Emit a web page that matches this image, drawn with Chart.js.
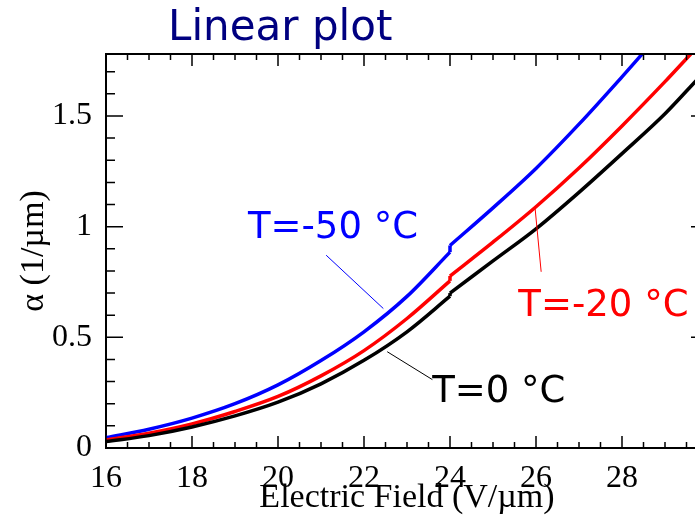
<!DOCTYPE html>
<html>
<head>
<meta charset="utf-8">
<script src="https://cdn.jsdelivr.net/npm/chart.js@4"></script>
<style>
  html, body { margin: 0; padding: 0; background: #fff; overflow: hidden; }
  #wrap { width: 695px; height: 517px; overflow: hidden; }
</style>
</head>
<body>
<div id="wrap"><canvas id="alpha-chart" width="708" height="517"></canvas></div>
<script>
// ionisation coefficient alpha (1/um) vs electric field (V/um)
// below 24 V/um
const fieldLow = [16, 17, 18, 19, 20, 21, 22, 23, 24];
const lowM50 = [0.047, 0.085, 0.135, 0.20, 0.285, 0.395, 0.525, 0.685, 0.885];
const lowM20 = [0.036, 0.067, 0.109, 0.165, 0.233, 0.326, 0.44, 0.585, 0.755];
const low0   = [0.029, 0.056, 0.095, 0.145, 0.207, 0.29, 0.396, 0.525, 0.686];

// from 24 V/um up
const fieldHighM50 = [24, 25, 26, 27, 28, 28.5];
const highM50 = [0.915, 1.085, 1.263, 1.463, 1.677, 1.787];
const fieldHighM20 = [24, 25, 26, 27, 28, 29, 29.6];
const highM20 = [0.777, 0.93, 1.09, 1.265, 1.455, 1.655, 1.78];
const fieldHigh0 = [24, 25, 26, 27, 28, 29, 29.75];
const high0 = [0.70, 0.845, 0.99, 1.155, 1.33, 1.51, 1.665];

const xTicks = [16, 18, 20, 22, 24, 26, 28];
const yTicks = [0, 0.5, 1, 1.5];
const yTickLabels = ['0', '0.5', '1', '1.5'];

const BLUE = '#0000ff', RED = '#ff0000', BLACK = '#000000';
const SANS = "'DejaVu Sans', sans-serif";
const SERIF = "'Liberation Serif', 'Times New Roman', serif";

// text labels with their pointer lines, in data units
const notes = [
  { text: 'T=-50 °C', color: BLUE, at: [19.30, 0.95], from: [21.12, 0.871], to: [22.45, 0.63] },
  { text: 'T=-20 °C', color: RED, at: [25.59, 0.598], from: [26.12, 0.796], to: [25.98, 1.081] },
  { text: 'T=0 °C', color: BLACK, at: [23.585, 0.209], from: [23.59, 0.309], to: [22.54, 0.435] }
];

function pts(xs, ys) {
  return xs.map((x, i) => ({ x: x, y: ys[i] }));
}

function curve(data, color) {
  return {
    data: data,
    borderColor: color,
    borderWidth: 3.5,
    pointRadius: 0,
    fill: false,
    cubicInterpolationMode: 'monotone'
  };
}

function step(xs1, ys1, xs2, ys2, color) {
  const a = ys1.length - 1;
  return {
    data: [{ x: xs1[a], y: ys1[a] }, { x: xs2[0], y: ys2[0] }],
    borderColor: color,
    borderWidth: 3.5,
    pointRadius: 0,
    fill: false
  };
}

const datasets = [
  curve(pts(fieldLow, low0), BLACK),
  step(fieldLow, low0, fieldHigh0, high0, BLACK),
  curve(pts(fieldHigh0, high0), BLACK),
  curve(pts(fieldLow, lowM20), RED),
  step(fieldLow, lowM20, fieldHighM20, highM20, RED),
  curve(pts(fieldHighM20, highM20), RED),
  curve(pts(fieldLow, lowM50), BLUE),
  step(fieldLow, lowM50, fieldHighM50, highM50, BLUE),
  curve(pts(fieldHighM50, highM50), BLUE)
];

// inward major/minor ticks on all four sides, frame, title and labels
const framePlugin = {
  id: 'frame',
  afterDraw(chart) {
    const ctx = chart.ctx;
    const { left, right, top, bottom } = chart.chartArea;
    const xs = chart.scales.x, ys = chart.scales.y;
    ctx.save();
    ctx.strokeStyle = BLACK;
    ctx.lineWidth = 2;
    ctx.beginPath();
    ctx.moveTo(left, top); ctx.lineTo(right, top); ctx.lineTo(right, bottom);
    ctx.stroke();

    ctx.lineWidth = 1.5;
    ctx.beginPath();
    for (let v = xs.min; v <= xs.max + 1e-9; v += 0.5) {
      const major = Math.abs(v / 2 - Math.round(v / 2)) < 1e-6;
      const len = major ? 12 : 6;
      const px = xs.getPixelForValue(v);
      ctx.moveTo(px, bottom); ctx.lineTo(px, bottom - len);
      ctx.moveTo(px, top); ctx.lineTo(px, top + len);
    }
    for (let i = 0; i * 0.1 <= ys.max + 1e-9; i++) {
      const v = i * 0.1;
      const major = yTicks.some(t => Math.abs(t - v) < 1e-6);
      const len = major ? 17 : 9;
      const py = ys.getPixelForValue(v);
      ctx.moveTo(left, py); ctx.lineTo(left + len, py);
      ctx.moveTo(right, py); ctx.lineTo(right - len, py);
    }
    ctx.stroke();

    // pointer lines and temperature labels
    ctx.lineWidth = 1;
    ctx.font = '37px ' + SANS;
    ctx.textBaseline = 'alphabetic';
    notes.forEach(n => {
      ctx.strokeStyle = n.color;
      ctx.beginPath();
      ctx.moveTo(xs.getPixelForValue(n.from[0]), ys.getPixelForValue(n.from[1]));
      ctx.lineTo(xs.getPixelForValue(n.to[0]), ys.getPixelForValue(n.to[1]));
      ctx.stroke();
      ctx.fillStyle = n.color;
      ctx.fillText(n.text, xs.getPixelForValue(n.at[0]), ys.getPixelForValue(n.at[1]));
    });

    ctx.fillStyle = '#000080';
    ctx.font = '42px ' + SANS;
    ctx.fillText('Linear plot', 168, 40);
    ctx.restore();
  }
};

new Chart(document.getElementById('alpha-chart'), {
  type: 'line',
  data: { datasets: datasets },
  options: {
    responsive: false,
    animation: false,
    layout: { padding: { top: 54, right: 0, left: 0, bottom: 0 } },
    plugins: { legend: { display: false }, tooltip: { enabled: false } },
    scales: {
      x: {
        type: 'linear',
        min: 16,
        max: 30,
        afterBuildTicks: s => { s.ticks = xTicks.map(v => ({ value: v })); },
        afterFit: s => { s.height = 69; },
        grid: { display: false },
        border: { display: true, color: BLACK, width: 2 },
        ticks: {
          autoSkip: false, maxRotation: 0, padding: 3,
          color: BLACK, font: { family: SERIF, size: 32 }
        },
        title: {
          display: true, text: 'Electric Field (V/µm)', color: BLACK,
          font: { family: SERIF, size: 34 }, padding: { top: 0, bottom: -1 }
        }
      },
      y: {
        type: 'linear',
        min: 0,
        max: 1.78,
        afterBuildTicks: s => { s.ticks = yTicks.map(v => ({ value: v })); },
        afterFit: s => { s.width = 106; },
        grid: { display: false },
        border: { display: true, color: BLACK, width: 2 },
        ticks: {
          autoSkip: false, padding: 6, color: BLACK,
          font: { family: SERIF, size: 32 },
          callback: (v, i) => yTickLabels[i]
        },
        title: {
          display: true, text: 'α (1/µm)', color: BLACK,
          font: { family: SERIF, size: 34 }, padding: { top: 14, bottom: 0 }
        }
      }
    }
  },
  plugins: [framePlugin]
});
</script>
</body>
</html>
